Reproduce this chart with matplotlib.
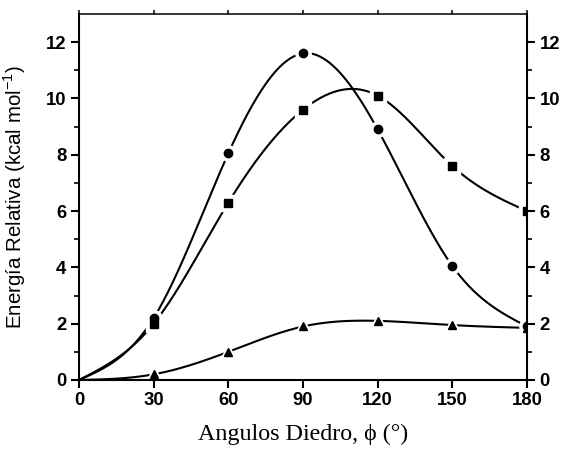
import matplotlib
matplotlib.use('Agg')
import matplotlib.pyplot as plt
import numpy as np

angles = [0, 30, 60, 90, 120, 150, 180]
e_circle = [0.0, 2.2, 8.05, 11.6, 8.9, 4.05, 1.9]
e_square = [0.0, 2.0, 6.3, 9.6, 10.1, 7.6, 6.0]
e_triangle = [0.0, 0.2, 1.0, 1.9, 2.1, 1.95, 1.85]


def spline(x, y, n=400):
    # natural cubic spline through the points, just for the smooth line
    x = np.asarray(x, float)
    y = np.asarray(y, float)
    m = len(x)
    h = np.diff(x)
    a = np.zeros((m, m))
    b = np.zeros(m)
    a[0, 0] = a[-1, -1] = 1.
    for i in range(1, m - 1):
        a[i, i - 1] = h[i - 1]
        a[i, i] = 2 * (h[i - 1] + h[i])
        a[i, i + 1] = h[i]
        b[i] = 6 * ((y[i + 1] - y[i]) / h[i] - (y[i] - y[i - 1]) / h[i - 1])
    M = np.linalg.solve(a, b)
    xs = np.linspace(x[0], x[-1], n)
    k = np.clip(np.searchsorted(x, xs) - 1, 0, m - 2)
    t0 = x[k + 1] - xs
    t1 = xs - x[k]
    hk = h[k]
    ys = (M[k] * t0 ** 3 + M[k + 1] * t1 ** 3) / (6 * hk) \
        + (y[k] / hk - M[k] * hk / 6) * t0 + (y[k + 1] / hk - M[k + 1] * hk / 6) * t1
    return xs, ys


fig = plt.figure(figsize=(5.61, 4.5), dpi=100)
ax = fig.add_axes([0.1408, 0.1556, 0.7986, 0.8133])

for ys, mk in [(e_circle, 'o'), (e_square, 's'), (e_triangle, '^')]:
    xs, yy = spline(angles, ys)
    ax.plot(xs, yy, color='black', lw=1.5, zorder=2)
    # white halo so the line stops short of each symbol (no symbol at the origin)
    ax.plot(angles[1:], ys[1:], ls='none', marker=mk, ms=11, color='white', zorder=3)
    ax.plot(angles[1:], ys[1:], ls='none', marker=mk, ms=6, color='black', zorder=4)

ax.set_xlim(0, 180)
ax.set_ylim(0, 13)
ax.set_xticks(range(0, 181, 30))
ax.set_yticks(range(0, 13, 2))
ax.set_yticks(range(1, 13, 2), minor=True)

for s in ax.spines.values():
    s.set_linewidth(1.5)
    s.set_zorder(5)
ax.spines['top'].set_linewidth(1.1)

ax.tick_params(axis='both', which='major', direction='out', length=6, width=1.5,
               labelsize=13.3, right=True, labelright=True, pad=3)
ax.tick_params(axis='y', which='minor', direction='out', length=3.5, width=1.2, right=True)
ax.tick_params(axis='x', which='major', top=True)
for t in ax.xaxis.get_major_ticks():
    t.tick2line.set_markersize(3)
    t.tick2line.set_markeredgewidth(1.1)
for t in ax.xaxis.get_major_ticks() + ax.yaxis.get_major_ticks():
    for lab in (t.label1, t.label2):
        lab.set_fontweight('bold')
        lab.set_family('Liberation Sans')

plt.rcParams['mathtext.fontset'] = 'custom'
plt.rcParams['mathtext.rm'] = 'Liberation Sans'
ax.set_ylabel('Energía Relativa (kcal mol$^{\\mathregular{-1}}$)', family='Liberation Sans',
              fontsize=14.8, labelpad=13)
ax.set_xlabel('Angulos Diedro, ϕ (°)', family=['Liberation Serif', 'DejaVu Serif'],
              fontsize=17.3, labelpad=10)

fig.savefig('out.png', dpi=100)
